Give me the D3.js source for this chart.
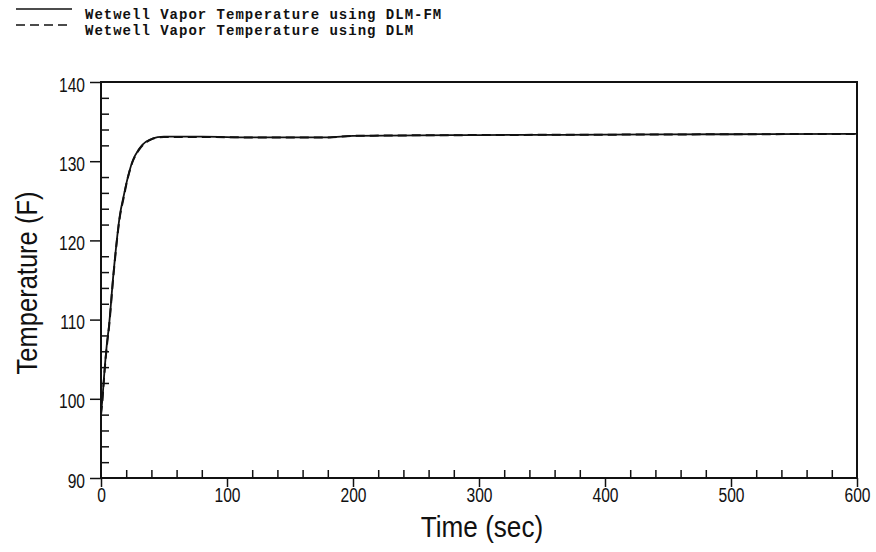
<!DOCTYPE html>
<html>
<head>
<meta charset="utf-8">
<script src="https://cdn.jsdelivr.net/npm/d3@7"></script>
<style>
  body { margin: 0; background: #fff; }
  svg { display: block; }
  .lbl { font-family: "Liberation Sans", sans-serif; fill: #111; }
  .leg { font-family: "Liberation Mono", "DejaVu Sans Mono", monospace; font-weight: bold; font-size: 14px; letter-spacing: 1px; fill: #111; }
</style>
</head>
<body>
<div id="chart"></div>
<script>
// Datos
const timeFM = [0, 1, 3, 5, 6, 10, 15, 18, 20, 25, 30, 33, 40, 45, 50, 80, 120, 180, 200, 300, 400, 500, 600];
const tempFM = [98.2, 99.8, 104, 107.4, 108.7, 116, 123.2, 125.6, 127.1, 130, 131.5, 132.1, 132.8, 133.05, 133.1, 133.1, 133.0, 133.0, 133.2, 133.3, 133.35, 133.4, 133.45];
const timeDLM = [0, 1, 3, 5, 6, 10, 15, 18, 20, 25, 30, 33, 40, 45, 50, 80, 120, 180, 200, 300, 400, 500, 600];
const tempDLM = [98.0, 99.6, 103.8, 107.2, 108.5, 115.8, 123.0, 125.4, 127.0, 129.9, 131.4, 132.0, 132.75, 133.0, 133.05, 133.05, 133.0, 133.0, 133.2, 133.3, 133.35, 133.4, 133.45];
const xTicks = [0, 100, 200, 300, 400, 500, 600];
const yTicks = [90, 100, 110, 120, 130, 140];
const legendLabels = ['Wetwell Vapor Temperature using DLM-FM', 'Wetwell Vapor Temperature using DLM'];

const width = 876, height = 552;
const margin = { top: 82, right: 19, bottom: 74, left: 101 };

const svg = d3.select('#chart').append('svg')
    .attr('width', width)
    .attr('height', height);

const x = d3.scaleLinear().domain([0, 600]).range([margin.left, width - margin.right]);
const y = d3.scaleLinear().domain([90, 140]).range([height - margin.bottom, margin.top]);

// estrecha el texto (la fuente original es condensada)
function condense(sel, k) {
    sel.each(function () {
        const n = this.getComputedTextLength();
        d3.select(this).attr('textLength', n * k).attr('lengthAdjust', 'spacingAndGlyphs');
    });
}

// Marco
svg.append('rect')
    .attr('x', x(0)).attr('y', y(140))
    .attr('width', x(600) - x(0)).attr('height', y(90) - y(140))
    .attr('fill', 'none').attr('stroke', '#111').attr('stroke-width', 2);

// Eje X: menores hacia dentro, mayores hacia fuera
svg.append('g')
    .attr('transform', `translate(0,${y(90)})`)
    .call(d3.axisBottom(x).tickValues(d3.range(20, 600, 20).filter(d => d % 100 !== 0)).tickSize(-8).tickFormat(''))
    .call(g => g.select('.domain').remove())
    .call(g => g.selectAll('line').attr('stroke', '#111').attr('stroke-width', 1.5));

svg.append('g')
    .attr('transform', `translate(0,${y(90)})`)
    .call(d3.axisBottom(x).tickValues(xTicks).tickSize(9).tickPadding(1))
    .call(g => g.select('.domain').remove())
    .call(g => g.selectAll('line').attr('stroke', '#111').attr('stroke-width', 1.5))
    .call(g => g.selectAll('text').attr('class', 'lbl').attr('font-size', 20).attr('font-family', null).call(condense, 0.78));

// Eje Y
svg.append('g')
    .attr('transform', `translate(${x(0)},0)`)
    .call(d3.axisLeft(y).tickValues(d3.range(92, 140, 2).filter(d => d % 10 !== 0)).tickSize(-8).tickFormat(''))
    .call(g => g.select('.domain').remove())
    .call(g => g.selectAll('line').attr('stroke', '#111').attr('stroke-width', 1.5));

svg.append('g')
    .attr('transform', `translate(${x(0)},0)`)
    .call(d3.axisLeft(y).tickValues(yTicks).tickSize(11).tickPadding(5))
    .call(g => g.select('.domain').remove())
    .call(g => g.selectAll('line').attr('stroke', '#111').attr('stroke-width', 1.5))
    .call(g => g.selectAll('text').attr('class', 'lbl').attr('font-size', 20).attr('font-family', null).attr('dy', '0.45em').call(condense, 0.78));

// Curvas
const lineFM = d3.line().x((d, i) => x(timeFM[i])).y(d => y(d)).curve(d3.curveMonotoneX);
const lineDLM = d3.line().x((d, i) => x(timeDLM[i])).y(d => y(d)).curve(d3.curveMonotoneX);

svg.append('path').datum(tempDLM)
    .attr('d', lineDLM)
    .attr('fill', 'none').attr('stroke', '#111').attr('stroke-width', 2)
    .attr('stroke-dasharray', '9,5');

svg.append('path').datum(tempFM)
    .attr('d', lineFM)
    .attr('fill', 'none').attr('stroke', '#111').attr('stroke-width', 1.8);

// Titulos de ejes
svg.append('text').attr('class', 'lbl')
    .attr('x', 482).attr('y', 537)
    .attr('text-anchor', 'middle').attr('font-size', 29)
    .text('Time (sec)')
    .call(condense, 0.9);

svg.append('text').attr('class', 'lbl')
    .attr('transform', `translate(37,283) rotate(-90)`)
    .attr('text-anchor', 'middle').attr('font-size', 29)
    .text('Temperature (F)')
    .call(condense, 0.88);

// Leyenda
const leg = svg.append('g');
legendLabels.forEach((t, i) => {
    const yy = 9 + i * 16;
    leg.append('line')
        .attr('x1', 16).attr('x2', 72).attr('y1', yy).attr('y2', yy)
        .attr('stroke', '#111').attr('stroke-width', 1.5)
        .attr('stroke-dasharray', i === 0 ? null : '9,5');
    leg.append('text').attr('class', 'leg')
        .attr('x', 85).attr('y', yy + 10)
        .text(t);
});
</script>
</body>
</html>
